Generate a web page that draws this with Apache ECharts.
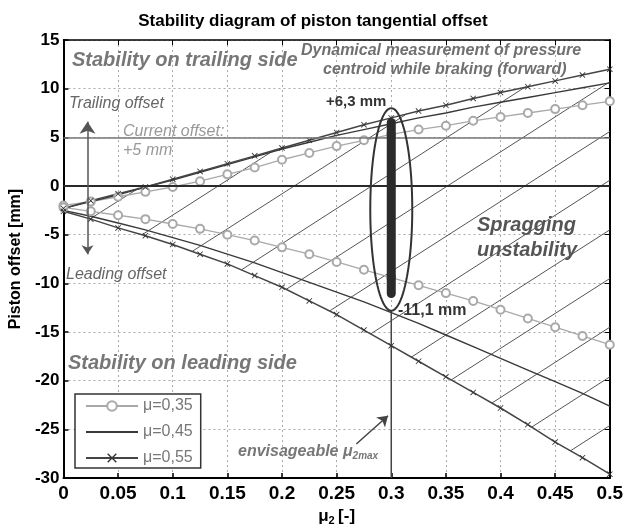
<!DOCTYPE html>
<html><head><meta charset="utf-8">
<script src="https://cdn.jsdelivr.net/npm/echarts@6/dist/echarts.min.js"></script>
<style>html,body{margin:0;padding:0;background:#fff}#c{width:626px;height:531px}</style>
</head><body><div id="c"></div>
<script>
// ---- data ----
const mu2 = [0,0.025,0.05,0.075,0.1,0.125,0.15,0.175,0.2,0.225,0.25,0.275,0.3,0.325,0.35,0.375,0.4,0.425,0.45,0.475,0.5];
const upper035 = [-2.0,-1.6,-1.1,-0.6,-0.1,0.5,1.2,1.9,2.7,3.4,4.1,4.7,5.3,5.8,6.2,6.7,7.1,7.5,7.9,8.3,8.7];
const lower035 = [-2.2,-2.6,-3.0,-3.4,-3.9,-4.4,-5.0,-5.6,-6.3,-7.0,-7.8,-8.6,-9.4,-10.2,-11.0,-11.8,-12.7,-13.6,-14.5,-15.4,-16.3];
const upper045 = [-2.3,-1.6,-0.9,-0.1,0.6,1.4,2.2,3.0,3.8,4.5,5.2,5.8,6.4,7.0,7.5,8.1,8.6,9.1,9.6,10.1,10.6];
const lower045 = [-2.5,-3.1,-3.8,-4.5,-5.3,-6.1,-7.0,-7.9,-8.9,-9.9,-10.9,-11.9,-13.0,-14.1,-15.3,-16.5,-17.7,-18.9,-20.1,-21.3,-22.6];
const upper055 = [-2.3,-1.5,-0.8,-0.1,0.7,1.5,2.3,3.1,3.9,4.7,5.5,6.3,7.0,7.7,8.3,9.0,9.6,10.2,10.8,11.4,12.0];
const lower055 = [-2.6,-3.4,-4.3,-5.1,-6.0,-7.0,-8.0,-9.2,-10.4,-11.8,-13.2,-14.8,-16.4,-18.0,-19.6,-21.2,-22.8,-24.5,-26.3,-27.9,-29.6];
const seriesNames = ['μ=0,35','μ=0,45','μ=0,55'];
const xTickLabels = ['0','0.05','0.1','0.15','0.2','0.25','0.3','0.35','0.4','0.45','0.5'];
const yTickLabels = ['-30','-25','-20','-15','-10','-5','0','5','10','15'];
// hatching of the spragging region: [mu2 start, offset start, mu2 end, offset end]
const hatchSegments = [
  [0.024,-3.4,0.069,-0.2],[0.072,-5.0,0.193,3.7],[0.118,-6.7,0.314,7.4],[0.163,-8.6,0.423,10.2],
  [0.204,-10.6,0.5,10.7],[0.244,-12.8,0.5,5.6],[0.281,-15.2,0.5,0.6],[0.318,-17.6,0.5,-4.5],
  [0.355,-19.9,0.5,-9.5],[0.392,-22.3,0.5,-14.5],[0.428,-24.8,0.5,-19.6],[0.464,-27.2,0.5,-24.6]
];
const measuredMu2 = 0.3;
const measuredRange = [-11.5, 7.0];
const ellipseRange = [-12.8, 8.0];
const zeroOffset = 0;
const currentOffset = 5;
const trailingArrow = [[0.022,-7.0],[0.022,6.6]];
const envisageArrow = [[0.268,-26.5],[0.297,-23.6]];

const xMin = 0, xMax = 0.5, xStep = 0.05;
const yMin = -30, yMax = 15, yStep = 5;
const FONT = 'Liberation Sans, Arial, sans-serif';
const pts = arr => mu2.map((x,i)=>[x, arr[i]]);
const crossPath = 'path://M0,1L1,0L10,9L9,10Z M9,0L10,1L1,10L0,9Z';

const chart = echarts.init(document.getElementById('c'), null, {renderer:'canvas'});

const circleStyle = {type:'line', name:seriesNames[0], symbol:'emptyCircle', symbolSize:8, showAllSymbol:true,
  itemStyle:{color:'#a9a9a9', borderWidth:1.2}, lineStyle:{color:'#a9a9a9', width:1.3}, z:3};
const solidStyle = {type:'line', name:seriesNames[1], symbol:'circle', showSymbol:false,
  itemStyle:{color:'rgba(0,0,0,0)', borderWidth:0}, lineStyle:{color:'#3a3a3a', width:1.4}, z:3};
const crossStyle = {type:'line', name:seriesNames[2], symbol:crossPath, symbolSize:6, showAllSymbol:true,
  itemStyle:{color:'#333'}, lineStyle:{color:'#444', width:1.5}, z:3};

const gText = (text, left, top, font, fill, extra) => Object.assign({type:'text', left, top, z:100,
  style:{text, font, fill}}, extra || {});

chart.setOption({
  animation:false,
  backgroundColor:'#fff',
  title:{text:'Stability diagram of piston tangential offset', left:'center', top:8,
    textStyle:{fontFamily:FONT, fontWeight:'bold', fontSize:17, color:'#000'}},
  grid:{left:63, right:9, top:40, bottom:49, containLabel:false},
  legend:{data:seriesNames, orient:'vertical', left:75, top:394, itemWidth:52, itemHeight:12, itemGap:10,
    backgroundColor:'#fff', borderColor:'#333', borderWidth:1.5, padding:[4,8,2,10],
    textStyle:{fontFamily:FONT, fontSize:16, color:'#777'}},
  xAxis:[{type:'value', min:xMin, max:xMax, interval:xStep, position:'bottom',
      name:'{m|μ}{s|2} {m|[-]}', nameLocation:'middle', nameGap:22,
      nameTextStyle:{rich:{m:{fontFamily:FONT, fontWeight:'bold', fontSize:17, color:'#000'},
        s:{fontFamily:FONT, fontWeight:'bold', fontSize:11, color:'#000', verticalAlign:'bottom', padding:[8,0,0,0]}}},
      axisLine:{onZero:false, lineStyle:{color:'#000', width:2}},
      axisTick:{inside:true, length:5, lineStyle:{color:'#000', width:1.5}},
      axisLabel:{margin:6, fontFamily:FONT, fontWeight:'bold', fontSize:19, color:'#000',
        formatter:v=>xTickLabels[Math.round((v-xMin)/xStep)]},
      splitLine:{show:true, lineStyle:{color:'#aaa', type:[2,3], width:1}}},
    {type:'value', min:xMin, max:xMax, interval:xStep, position:'top',
      axisLine:{onZero:false, lineStyle:{color:'#000', width:1.5}},
      axisTick:{inside:true, length:5, lineStyle:{color:'#000'}}, axisLabel:{show:false}, splitLine:{show:false}}],
  yAxis:[{type:'value', min:yMin, max:yMax, interval:yStep, position:'left',
      name:'Piston offset [mm]', nameLocation:'middle', nameGap:39,
      nameTextStyle:{fontFamily:FONT, fontWeight:'bold', fontSize:16, color:'#000'},
      axisLine:{onZero:false, lineStyle:{color:'#000', width:2}},
      axisTick:{inside:true, length:5, lineStyle:{color:'#000', width:1.5}},
      axisLabel:{margin:4, fontFamily:FONT, fontWeight:'bold', fontSize:17, color:'#000',
        formatter:v=>yTickLabels[Math.round((v-yMin)/yStep)]},
      splitLine:{show:true, lineStyle:{color:'#aaa', type:[2,3], width:1}}},
    {type:'value', min:yMin, max:yMax, interval:yStep, position:'right',
      axisLine:{onZero:false, lineStyle:{color:'#000', width:2}},
      axisTick:{inside:true, length:5, lineStyle:{color:'#000'}}, axisLabel:{show:false}, splitLine:{show:false}}],
  series:[
    {type:'custom', name:'hatch', silent:true, z:1, data:hatchSegments, encode:{x:[0,2], y:[1,3]},
      renderItem:(params, api)=>{
        const p1 = api.coord([api.value(0), api.value(1)]);
        const p2 = api.coord([api.value(2), api.value(3)]);
        return {type:'line', shape:{x1:p1[0], y1:p1[1], x2:p2[0], y2:p2[1]}, style:{stroke:'#555', lineWidth:1}};
      }},
    {type:'line', name:'envisageable', silent:true, symbol:'none', z:2,
      data:[[measuredMu2, yMin],[measuredMu2, ellipseRange[0]]], lineStyle:{color:'#444', width:1.5},
      markLine:{silent:true, symbol:['none','none'], label:{show:false},
        data:[{yAxis:zeroOffset, lineStyle:{color:'#2a2a2a', width:2, type:'solid'}},
              {yAxis:currentOffset, lineStyle:{color:'#777', width:1.5, type:'solid'}}]}},
    Object.assign({}, circleStyle, {data:pts(upper035)}),
    Object.assign({}, circleStyle, {data:pts(lower035)}),
    Object.assign({}, solidStyle, {data:pts(upper045)}),
    Object.assign({}, solidStyle, {data:pts(lower045)}),
    Object.assign({}, crossStyle, {data:pts(upper055)}),
    Object.assign({}, crossStyle, {data:pts(lower055)}),
    {type:'custom', name:'measurement', silent:true, z:5,
      data:[[measuredMu2, ellipseRange[0], ellipseRange[1], measuredRange[0], measuredRange[1]]],
      encode:{x:0, y:[1,2]},
      renderItem:(params, api)=>{
        const x = api.value(0);
        const top = api.coord([x, api.value(2)]);
        const bot = api.coord([x, api.value(1)]);
        const cx = top[0], cy = (top[1]+bot[1])/2, ry = (bot[1]-top[1])/2, rx = 21;
        const poly = [];
        for (let k=0; k<96; k++){ const a = k/96*2*Math.PI; poly.push([cx+rx*Math.cos(a), cy+ry*Math.sin(a)]); }
        const bt = api.coord([x, api.value(4)]), bb = api.coord([x, api.value(3)]);
        return {type:'group', children:[
          {type:'rect', shape:{x:cx-4.5, y:bt[1], width:9, height:bb[1]-bt[1], r:4.5}, style:{fill:'#2b2b2b'}},
          {type:'polygon', shape:{points:poly}, style:{fill:'none', stroke:'#333', lineWidth:2}}
        ]};
      }},
    {type:'lines', coordinateSystem:'cartesian2d', silent:true, z:6, polyline:false,
      symbol:['arrow','arrow'], symbolSize:[9,12],
      lineStyle:{color:'#555', width:1.5, opacity:1}, data:[{coords:trailingArrow}]},
    {type:'lines', coordinateSystem:'cartesian2d', silent:true, z:6, polyline:false,
      symbol:['none','arrow'], symbolSize:10,
      lineStyle:{color:'#444', width:1.5, opacity:1}, data:[{coords:envisageArrow}]}
  ],
  graphic:[
    gText('Stability on trailing side', 72, 50, 'italic bold 20px '+FONT, '#777'),
    gText('Dynamical measurement of pressure', 301, 43, 'italic bold 16px '+FONT, '#707070'),
    gText('centroid while braking (forward)', 323, 62, 'italic bold 16px '+FONT, '#707070'),
    gText('+6,3 mm', 326, 94, 'bold 15px '+FONT, '#333'),
    gText('Trailing offset', 69, 96, 'italic 16px '+FONT, '#666'),
    gText('Current offset:', 123, 124, 'italic 16px '+FONT, '#999'),
    gText('+5 mm', 123, 143, 'italic 16px '+FONT, '#999'),
    gText('Leading offset', 66, 267, 'italic 16px '+FONT, '#666'),
    gText('Spragging', 477, 215, 'italic bold 20px '+FONT, '#555'),
    gText('unstability', 477, 240, 'italic bold 20px '+FONT, '#555'),
    gText('-11,1 mm', 398, 303, 'bold 16px '+FONT, '#333'),
    gText('Stability on leading side', 68, 353, 'italic bold 20px '+FONT, '#777'),
    {type:'text', left:238, top:444, z:100, style:{text:'{a|envisageable μ}{b|2max}',
      rich:{a:{font:'italic bold 16px '+FONT, fill:'#777'}, b:{font:'italic bold 10px '+FONT, fill:'#777', padding:[8,0,0,0]}}}}
  ]
});
</script></body></html>
